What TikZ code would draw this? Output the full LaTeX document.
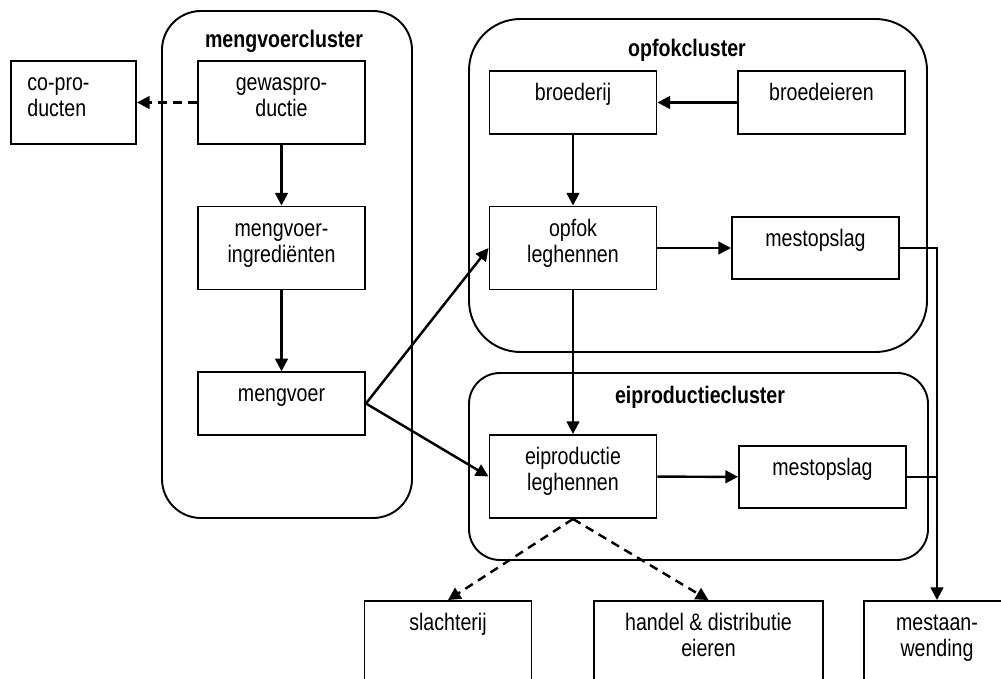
\documentclass[tikz,border=0pt]{standalone}
\usepackage{fontspec}
\setmainfont{Liberation Sans}[FakeStretch=0.82]
\usetikzlibrary{arrows.meta}

\newcommand\diagfont{\fontsize{13.6pt}{14.74pt}\selectfont}

\tikzset{
  cluster/.style={draw, line width=1.1pt},
  clustertitle/.style={anchor=base, font=\diagfont\bfseries, inner sep=0pt},
  box/.style={draw, line width=1.1pt, minimum width=3.34cm, minimum height=1.66cm, inner sep=0pt},
  lowbox/.style={box, minimum height=1.25cm},
  boxtxt/.style={anchor=base, align=center, inner sep=0pt, yshift=-0.61cm},
  twotxt/.style={boxtxt, yshift=-0.52cm},
  flow/.style={line width=1.4pt, -{Triangle[length=7.2pt,width=7.2pt]}},
  side/.style={flow, dash pattern=on 5pt off 3.5pt}
}

\begin{document}
\begin{tikzpicture}[x=0.02cm, y=-0.02cm, font=\diagfont]
  \clip (0,0) rectangle (1001,679);

  % clusters
  \draw[cluster, rounded corners=0.78cm] (162,11) rectangle (412,518);
  \draw[cluster, rounded corners=1.03cm] (469,19) rectangle (927,352);
  \draw[cluster, rounded corners=0.62cm] (469,373) rectangle (928,560);
  \node[clustertitle] (mvtitle) at (284,47.5) {mengvoercluster};
  \node[clustertitle] (oftitle) at (687,56.5) {opfokcluster};
  \node[clustertitle] (eptitle) at (700,403) {eiproductiecluster};

  % mengvoercluster
  \node[box, minimum width=2.5cm,
        label={[twotxt, anchor=base west, align=left, xshift=0.34cm]north west:co-pro-\\ducten}] (coprod) at (73.5,102.5) {};
  \node[box, label={[twotxt]north:gewaspro-\\ductie}] (gewas) at (281.5,102.5) {};
  \node[box, label={[twotxt]north:mengvoer-\\ingrediënten}] (ingr) at (281.5,248) {};
  \node[lowbox, label={[boxtxt]north:mengvoer}] (mengvoer) at (281.5,403.5) {};

  % opfokcluster
  \node[lowbox, label={[boxtxt]north:broederij}] (broederij) at (573,102.5) {};
  \node[lowbox, label={[boxtxt]north:broedeieren}] (broedeieren) at (821.5,102.5) {};
  \node[box, label={[twotxt]north:opfok\\leghennen}] (opfok) at (573,248) {};
  \node[lowbox, label={[boxtxt]north:mestopslag}] (mestopfok) at (815.5,248) {};

  % eiproductiecluster
  \node[box, label={[twotxt]north:eiproductie\\leghennen}] (eiprod) at (573,476.5) {};
  \node[lowbox, label={[boxtxt]north:mestopslag}] (mestei) at (822.5,477) {};

  % afnemers
  \node[box, minimum height=2cm, label={[boxtxt]north:slachterij}] (slacht) at (448,651) {};
  \node[box, minimum width=4.58cm, minimum height=2cm,
        label={[twotxt]north:handel \& distributie\\eieren}] (handel) at (708.5,651) {};
  \node[box, minimum width=2.92cm, minimum height=2cm,
        label={[twotxt]north:mestaan-\\wending}] (mestaan) at (937,651) {};

  % stromen
  \draw[side] (gewas) -- (coprod);
  \draw[flow] (gewas) -- (ingr);
  \draw[flow] (ingr) -- (mengvoer);
  \draw[flow] (mengvoer.east) -- (opfok.west);
  \draw[flow] (mengvoer.east) -- (eiprod.west);
  \draw[flow] (broedeieren) -- (broederij);
  \draw[flow] (broederij) -- (opfok);
  \draw[flow] (opfok) -- (mestopfok);
  \draw[flow] (opfok) -- (eiprod);
  \draw[flow] (eiprod) -- (mestei);
  \draw[flow] (mestopfok.east) -| (mestaan.north);
  \draw[line width=0.6pt] (mestei.east) -- (mestei.east -| mestaan.north);
  \draw[side] (eiprod.south) -- (slacht.north);
  \draw[side] (eiprod.south) -- (handel.north);
\end{tikzpicture}
\end{document}
